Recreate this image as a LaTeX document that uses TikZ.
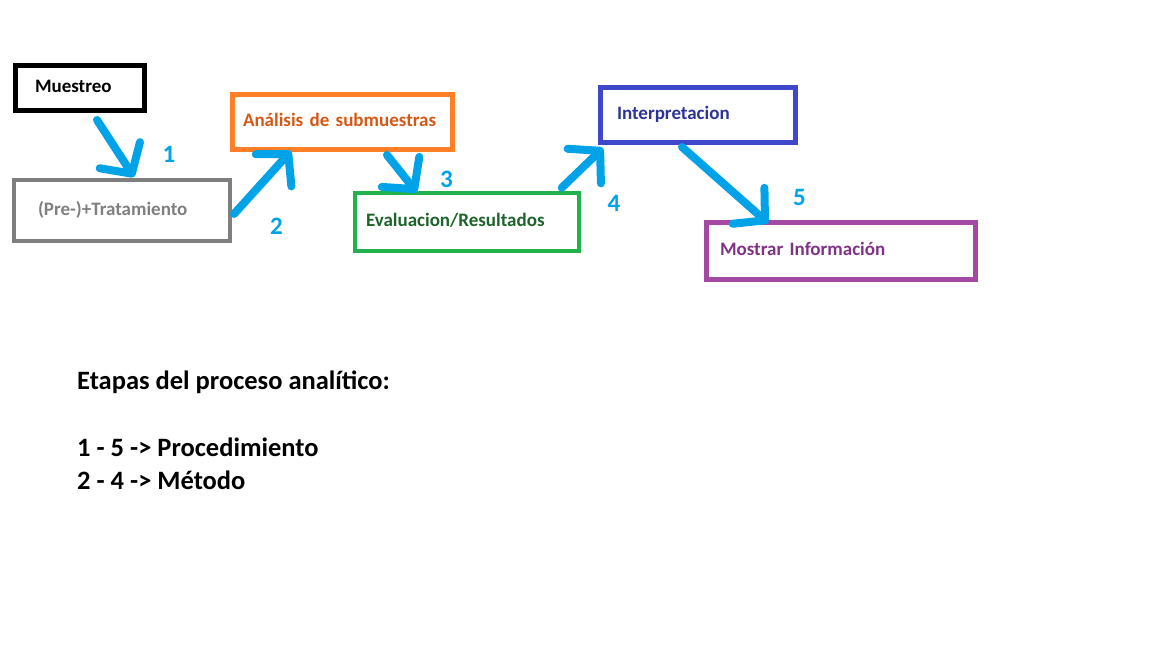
\documentclass[tikz,border=0pt]{standalone}
\usepackage{fontspec}
\setmainfont{Carlito}
\usetikzlibrary{arrows.meta}
\definecolor{azul}{RGB}{0,162,232}
\definecolor{negro}{RGB}{0,0,0}
\definecolor{gris}{RGB}{127,127,127}
\definecolor{naranja}{RGB}{255,127,39}
\definecolor{naranjaosc}{RGB}{214,88,20}
\definecolor{verde}{RGB}{34,177,76}
\definecolor{verdeosc}{RGB}{30,100,42}
\definecolor{indigo}{RGB}{63,72,204}
\definecolor{indigoosc}{RGB}{46,52,150}
\definecolor{morado}{RGB}{163,73,164}
\definecolor{moradoosc}{RGB}{128,50,132}
\begin{document}
\begin{tikzpicture}[x=1pt,y=-1pt,
    caja/.style={draw, rectangle, anchor=north west, align=left, inner ysep=0pt,
      font=\fontsize{19}{22}\selectfont\bfseries, text height=14pt, text depth=4.5pt},
    flecha/.style={draw=azul, line width=8pt, line cap=round, line join=round,
      -{Straight Barb[length=22pt,width=48pt,round]}},
    numero/.style={text=azul, font=\fontsize{25}{28}\selectfont\bfseries, inner sep=0pt},
    leyenda/.style={font=\fontsize{26.5}{30}\selectfont\bfseries, inner sep=0pt, anchor=base west}]
  \useasboundingbox (0,0) rectangle (1152,648);
  \node[caja, draw=negro, text=negro, line width=5pt, minimum width=129pt, minimum height=45pt,
    text width=90pt, inner xsep=19.5pt] (muestreo) at (13,63) {Muestreo};
  \node[caja, draw=gris, text=gris, line width=4pt, minimum width=216pt, minimum height=61pt,
    text width=168pt, inner xsep=24pt] (pretrat) at (12,178) {(Pre-)+Tratamiento};
  \node[caja, draw=naranja, text=naranjaosc, line width=5pt, minimum width=220pt, minimum height=55pt,
    text width=199pt, inner xsep=10.5pt] (analisis) at (230,92) {Análisis~de~submuestras};
  \node[caja, draw=verde, text=verdeosc, line width=4.5pt, minimum width=224pt, minimum height=58pt,
    text width=202pt, inner xsep=11pt] (evaluacion) at (352.75,190.75) {Evaluacion/Resultados};
  \node[caja, draw=indigo, text=indigoosc, line width=5pt, minimum width=194.5pt, minimum height=55pt,
    text width=161.5pt, inner xsep=16.5pt] (interp) at (598,85) {Interpretacion};
  \node[caja, draw=morado, text=moradoosc, line width=5pt, minimum width=269pt, minimum height=57pt,
    text width=242pt, inner xsep=13.5pt] (mostrar) at (704,220) {Mostrar Información};

  \draw[flecha] ([shift={(84,7)}]muestreo.south west) -- ([shift={(122,-1)}]pretrat.north west);
  \draw[flecha] ([shift={(2,3.5)}]pretrat.east) -- ([shift={(61,-1)}]analisis.south west);
  \draw[flecha] ([shift={(157,3)}]analisis.south west) -- ([shift={(64,1.5)}]evaluacion.north west);
  \draw[flecha] ([shift={(209,-3)}]evaluacion.north west) -- ([shift={(5,3)}]interp.south west);
  \draw[flecha] ([shift={(84,2)}]interp.south west) -- ([shift={(64,3)}]mostrar.north west);

  \node[numero] (n1) at (169,154.5) {1};
  \node[numero] (n2) at (276.5,226.5) {2};
  \node[numero] (n3) at (446.5,179) {3};
  \node[numero] (n4) at (614,203.5) {4};
  \node[numero] (n5) at (799.5,197) {5};

  \node[leyenda] (titulo) at (77,389) {Etapas del proceso analítico:};
  \node[leyenda] (proc) at (77,456.5) {1 - 5 -> Procedimiento};
  \node[leyenda] (metodo) at (77,489) {2 - 4 -> Método};
\end{tikzpicture}
\end{document}
